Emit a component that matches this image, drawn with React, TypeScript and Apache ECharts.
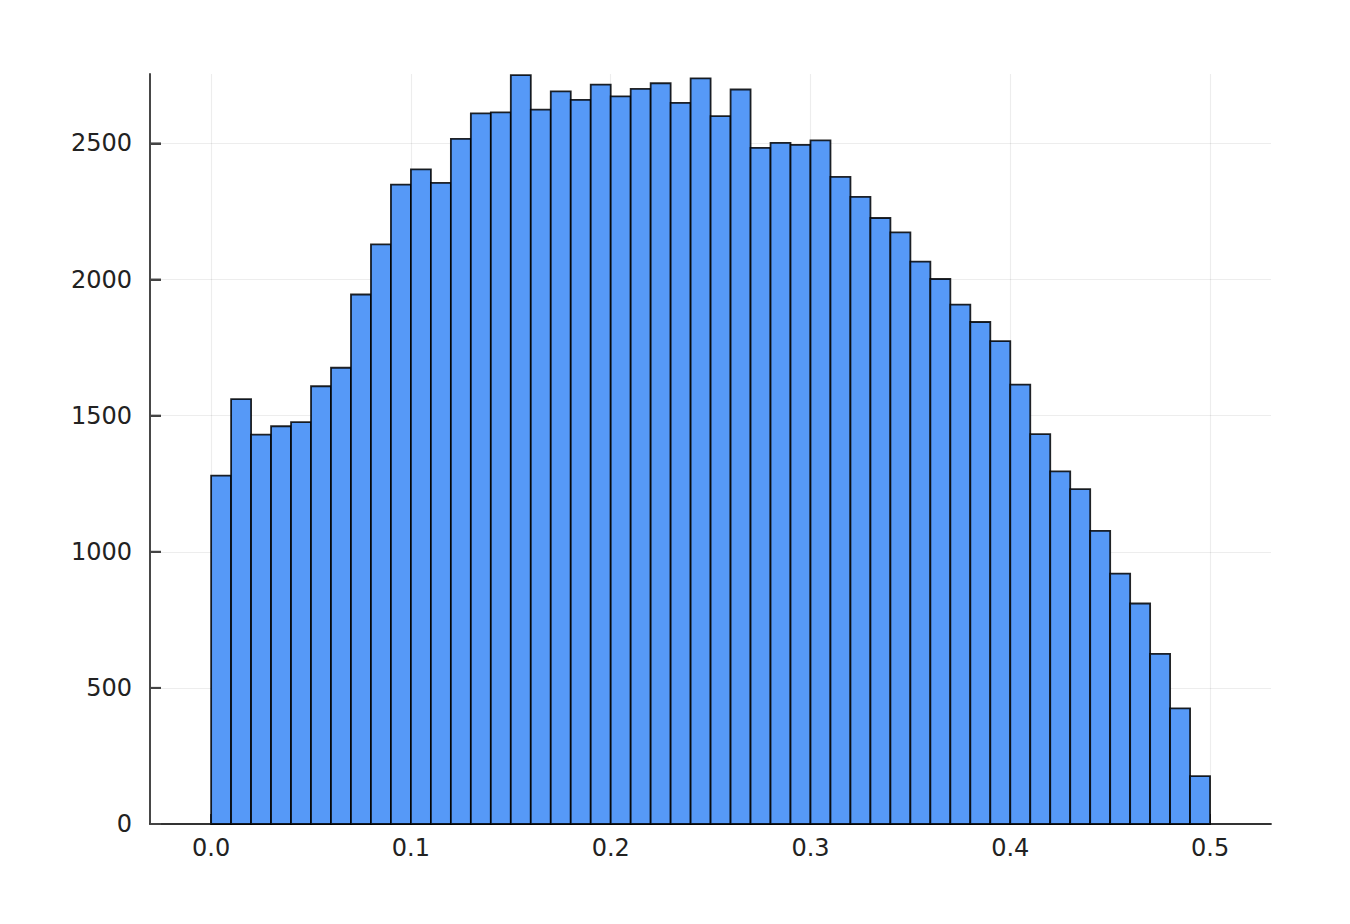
import React, { useEffect, useRef } from "react";
import * as echarts from "echarts";

const binStart = 0.0;
const binWidth = 0.01;
const counts: number[] = [
  1280, 1561, 1430, 1461, 1476, 1608, 1676, 1945, 2129, 2349,
  2405, 2355, 2517, 2610, 2614, 2751, 2624, 2691, 2660, 2716,
  2673, 2700, 2721, 2649, 2739, 2600, 2698, 2484, 2502, 2495,
  2511, 2377, 2304, 2226, 2173, 2066, 2002, 1908, 1844, 1774,
  1614, 1432, 1295, 1230, 1077, 920, 810, 625, 425, 176,
];
const xTicks: number[] = [0, 0.1, 0.2, 0.3, 0.4, 0.5];
const yTicks: number[] = [0, 500, 1000, 1500, 2000, 2500];
const xMin = -0.0306;
const xMax = 0.5305;
const yMax = 2755;

export default function App() {
  const ref = useRef<HTMLDivElement>(null);
  useEffect(() => {
    document.body.style.margin = "0";
    const chart = echarts.init(ref.current!, null, { renderer: "svg" });
    const data = counts.map((c, i) => [
      binStart + i * binWidth,
      binStart + (i + 1) * binWidth,
      c,
    ]);
    const tickData = yTicks.map((v) => [xMin, v]);
    const font = "DejaVu Sans";
    chart.setOption({
      animation: false,
      backgroundColor: "#ffffff",
      grid: { left: 150, right: 79, top: 74, bottom: 100, containLabel: false },
      xAxis: {
        type: "value",
        min: xMin,
        max: xMax,
        axisLine: { show: true, onZero: false, lineStyle: { color: "#333", width: 1.8 } },
        axisTick: { show: true, inside: true, length: 10, customValues: xTicks, lineStyle: { color: "#444", width: 1.8 } },
        axisLabel: {
          customValues: xTicks,
          formatter: (v: number) => v.toFixed(1),
          color: "#222",
          fontFamily: font,
          fontSize: 24,
          margin: 12,
        },
        splitLine: { show: true, lineStyle: { color: "rgba(0,0,0,0.07)", width: 1.2 } },
      },
      yAxis: {
        type: "value",
        min: 0,
        max: yMax,
        axisLine: { show: true, onZero: false, lineStyle: { color: "#333", width: 1.8 } },
        axisTick: { show: true, inside: true, length: 11, customValues: yTicks, lineStyle: { color: "#444", width: 2 } },
        axisLabel: {
          customValues: yTicks,
          formatter: (v: number) => String(v),
          color: "#222",
          fontFamily: font,
          fontSize: 24,
          margin: 18,
        },
        splitLine: { show: true, lineStyle: { color: "rgba(0,0,0,0.07)", width: 1.2 } },
      },
      series: [
        {
          type: "custom",
          data,
          encode: { x: [0, 1], y: 2 },
          renderItem: (params: any, api: any) => {
            const x0 = api.value(0);
            const x1 = api.value(1);
            const y = api.value(2);
            const p0 = api.coord([x0, 0]);
            const p1 = api.coord([x1, y]);
            return {
              type: "rect",
              shape: { x: p0[0], y: p1[1], width: p1[0] - p0[0], height: p0[1] - p1[1] },
              style: { fill: "#5699F7", stroke: "rgba(0,0,0,0.85)", lineWidth: 1.8 },
            };
          },
        },
        {
          type: "custom",
          data: tickData,
          encode: { x: 0, y: 1 },
          silent: true,
          z: 5,
          renderItem: (params: any, api: any) => {
            const p = api.coord([api.value(0), api.value(1)]);
            return {
              type: "line",
              shape: { x1: p[0], y1: p[1], x2: p[0] + 11, y2: p[1] },
              style: { stroke: "#444", lineWidth: 2 },
            };
          },
        },
      ],
    });
    return () => chart.dispose();
  }, []);
  return <div ref={ref} style={{ width: 1350, height: 924 }} />;
}
